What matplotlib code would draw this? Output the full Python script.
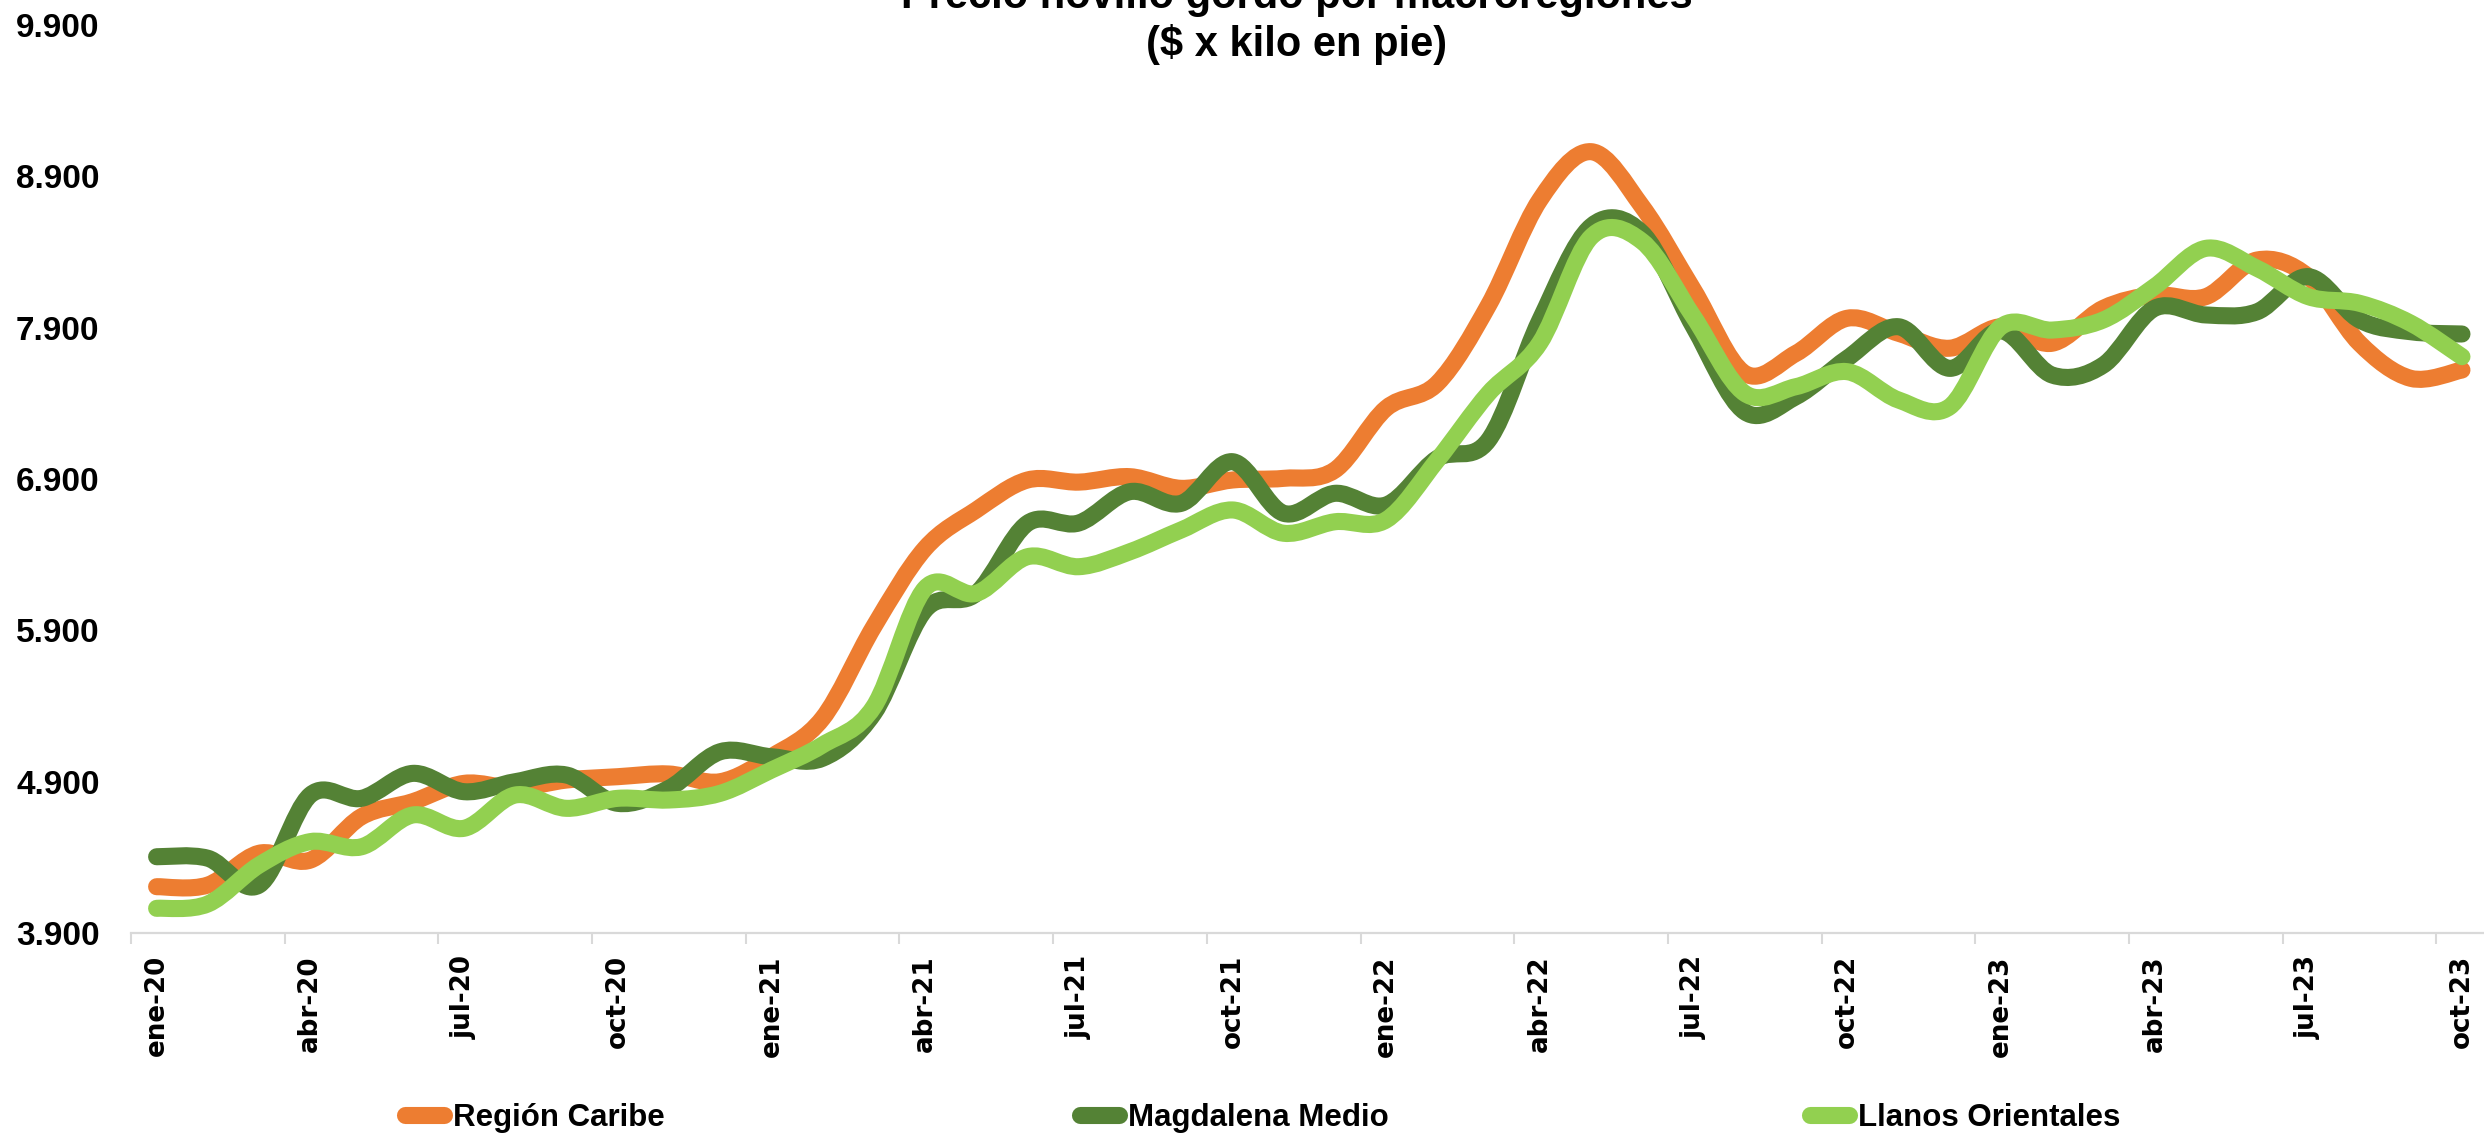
import matplotlib
matplotlib.use("Agg")
import matplotlib.pyplot as plt
from matplotlib.path import Path
from matplotlib.patches import PathPatch
from matplotlib.lines import Line2D
import numpy as np

# ---------------- data ----------------
month_names = ["ene", "feb", "mar", "abr", "may", "jun",
               "jul", "ago", "sep", "oct", "nov", "dic"]
categories = [f"{m}-{y}" for y in ["20", "21", "22", "23"] for m in month_names][:46]

region_caribe = [4206, 4217, 4427, 4382, 4669, 4768, 4889, 4858, 4911, 4933,
                 4951, 4900, 5065, 5319, 5925, 6442, 6696, 6894, 6880, 6916,
                 6839, 6894, 6905, 6960, 7368, 7533, 8050, 8745, 9064, 8700,
                 8150, 7599, 7731, 7963, 7864, 7765, 7907, 7798, 8029, 8117,
                 8106, 8348, 8238, 7798, 7566, 7621]
magdalena_medio = [4404, 4394, 4217, 4812, 4790, 4955, 4834, 4900, 4944, 4757,
                   4856, 5098, 5065, 5055, 5352, 6035, 6145, 6608, 6610, 6817,
                   6740, 7015, 6674, 6806, 6729, 7037, 7158, 7950, 8570, 8525,
                   7907, 7345, 7445, 7698, 7907, 7632, 7880, 7588, 7654, 8029,
                   7985, 8006, 8238, 7952, 7874, 7859]
llanos_orientales = [4063, 4092, 4349, 4504, 4470, 4680, 4592, 4812, 4724, 4790,
                     4779, 4823, 4977, 5143, 5396, 6178, 6145, 6387, 6321, 6420,
                     6564, 6696, 6542, 6618, 6630, 7026, 7467, 7800, 8500, 8470,
                     7973, 7467, 7511, 7610, 7423, 7378, 7907, 7885, 7952, 8172,
                     8425, 8293, 8106, 8062, 7930, 7709]
series_names = ["Región Caribe", "Magdalena Medio", "Llanos Orientales"]
y_ticks = [3900, 4900, 5900, 6900, 7900, 8900, 9900]
y_ticklabels = ["3.900", "4.900", "5.900", "6.900", "7.900", "8.900", "9.900"]
title_line1 = "Precio novillo gordo por macroregiones"
title_line2 = "($ x kilo en pie)"

colors = ["#ED7D31", "#548235", "#92D050"]

W, H = 2484, 1137
fig = plt.figure(figsize=(W / 100, H / 100), dpi=100)
fig.patch.set_facecolor("white")

ax_left, ax_right = 131, 131 + 46 * 51.23
ax_bottom, ax_top = 933, 25.2
ax = fig.add_axes([ax_left / W, 1 - ax_bottom / H,
                   (ax_right - ax_left) / W, (ax_bottom - ax_top) / H])


def smooth_path(xs, ys):
    xs = np.asarray(xs, float)
    ys = np.asarray(ys, float)
    n = len(xs)
    verts = [(xs[0], ys[0])]
    codes = [Path.MOVETO]
    for i in range(n - 1):
        p0 = max(i - 1, 0)
        p3 = min(i + 2, n - 1)
        c1 = (xs[i] + (xs[i + 1] - xs[p0]) / 6, ys[i] + (ys[i + 1] - ys[p0]) / 6)
        c2 = (xs[i + 1] - (xs[p3] - xs[i]) / 6, ys[i + 1] - (ys[p3] - ys[i]) / 6)
        verts += [c1, c2, (xs[i + 1], ys[i + 1])]
        codes += [Path.CURVE4] * 3
    return Path(verts, codes)


x = np.arange(len(categories))
lw = 12.3
for k, (vals, c) in enumerate(zip([region_caribe, magdalena_medio, llanos_orientales], colors)):
    patch = PathPatch(smooth_path(x, vals), fill=False, edgecolor=c, lw=lw,
                      capstyle="round", joinstyle="round", zorder=3 + k)
    ax.add_patch(patch)

ax.set_xlim(-0.5, len(categories) - 0.5)
ax.set_ylim(3900, 9900)

# x axis
ax.set_xticks(x[::3])
ax.set_xticklabels(categories[::3], rotation=90, fontsize=18.8,
                   fontweight="bold", family="DejaVu Sans", va="top", ha="center")
ax.set_xticks(np.arange(-0.5, len(categories) - 0.5, 3), minor=True)
ax.tick_params(axis="x", which="major", length=0, pad=16)
ax.tick_params(axis="x", which="minor", length=8, width=1.5, color="#D9D9D9", direction="out")

# y axis
ax.set_yticks(y_ticks)
ax.set_yticklabels(y_ticklabels, fontsize=24, fontweight="bold", family="Liberation Sans")
for lab in ax.get_yticklabels():
    lab.set_horizontalalignment("left")
ax.tick_params(axis="y", length=0, pad=(131 - 16) * 0.72)

for s in ["top", "right", "left"]:
    ax.spines[s].set_visible(False)
ax.spines["bottom"].set_color("#D9D9D9")
ax.spines["bottom"].set_linewidth(1.6)
ax.set_facecolor("white")

# title
fig.text(1297 / W, 1 - 8 / H, title_line1, ha="center", va="baseline",
         fontsize=30, fontweight="bold", family="Liberation Sans")
fig.text(1297 / W, 1 - 56 / H, title_line2, ha="center", va="baseline",
         fontsize=30, fontweight="bold", family="Liberation Sans")

# legend: one entry per legend, placed where the reference puts each entry
legend_x = [396, 1071, 1801]
cap_px = lw / 0.72 / 2
for name, c, lx in zip(series_names, colors, legend_x):
    h = Line2D([0], [0], color=c, lw=lw, solid_capstyle="round")
    leg = fig.legend([h], [name], loc="center left",
                     bbox_to_anchor=((lx + cap_px) / W, 1 - 1118 / H),
                     frameon=False, handlelength=1.25, handletextpad=0.3,
                     borderpad=0, borderaxespad=0,
                     prop={"family": "Liberation Sans", "weight": "bold", "size": 22.5})

fig.savefig("out.png", dpi=100, facecolor="white")
